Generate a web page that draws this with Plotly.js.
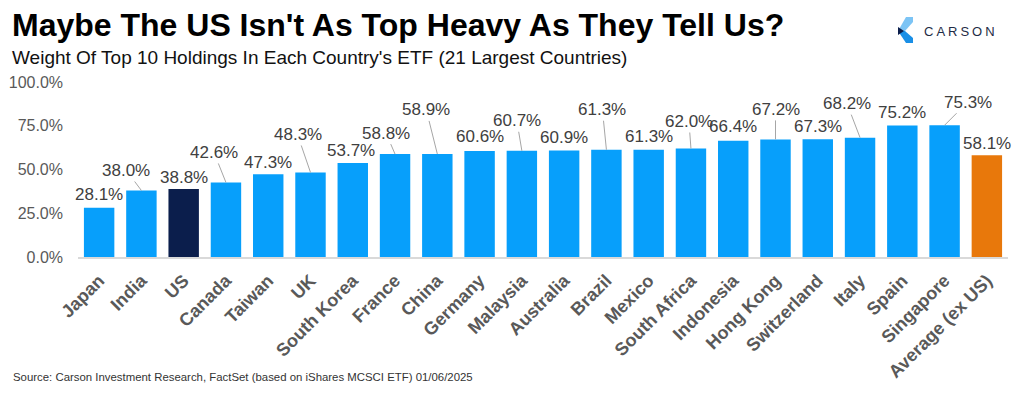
<!DOCTYPE html>
<html>
<head>
<meta charset="utf-8">
<script src="https://cdn.plot.ly/plotly-3.0.1.min.js"></script>
<style>
  html, body { margin: 0; padding: 0; background: #ffffff; }
  #chart { width: 1023px; height: 394px; }
</style>
</head>
<body>
<div id="chart"></div>
<script>
// ---- Data ----
const categories = ["Japan", "India", "US", "Canada", "Taiwan", "UK", "South Korea", "France", "China",
  "Germany", "Malaysia", "Australia", "Brazil", "Mexico", "South Africa", "Indonesia", "Hong Kong",
  "Switzerland", "Italy", "Spain", "Singapore", "Average (ex US)"];
const topTenWeight = [28.1, 38.0, 38.8, 42.6, 47.3, 48.3, 53.7, 58.8, 58.9,
  60.6, 60.7, 60.9, 61.3, 61.3, 62.0, 66.4, 67.2,
  67.3, 68.2, 75.2, 75.3, 58.1];
const yTickVals = [0, 25, 50, 75, 100];
const yTickText = yTickVals.map(v => v.toFixed(1) + "%");

const titleText = "Maybe The US Isn't As Top Heavy As They Tell Us?";
const subtitleText = "Weight Of Top 10 Holdings In Each Country's ETF (21 Largest Countries)";
const sourceText = "Source: Carson Investment Research, FactSet (based on iShares MCSCI ETF) 01/06/2025";

// ---- Styling / label placement (pixel offsets from bar top, leader line if moved) ----
const labelOffsets = [[0,-13],[-15,-20],[0,-12],[-12,-30],[0,-12],[-13,-38],[-2,-13],[-9,-21],[-11,-44],
  [0,-14],[-5,-30],[0,-13],[-4,-40],[0,-13],[-2,-27],[0,-14],[0,-30],
  [0,-13],[-13,-34],[0,-13],[23,-23],[0,-12]];
const leader = [false,true,false,true,false,true,false,true,true,
  false,true,false,true,false,true,false,true,
  false,true,false,true,false];

const BLUE = "#079ffb", NAVY = "#0b1e4c", ORANGE = "#e8780b";
const barColors = categories.map(c => c === "US" ? NAVY : (c.startsWith("Average") ? ORANGE : BLUE));

const M = {l: 78, r: 15, t: 82, b: 137};
const W = 1023, H = 394;
const PW = W - M.l - M.r, PH = H - M.t - M.b;
const px = p => (p - M.l) / PW;
const py = p => (H - M.b - p) / PH;
const FONT = "Liberation Sans, Arial, sans-serif";

const annotations = [];
categories.forEach((c, i) => {
  annotations.push({
    x: c, y: topTenWeight[i], xref: "x", yref: "y",
    text: topTenWeight[i].toFixed(1) + "%",
    showarrow: true, arrowhead: 0, arrowwidth: 1, standoff: 0,
    arrowcolor: leader[i] ? "#a6a6a6" : "rgba(0,0,0,0)",
    ax: labelOffsets[i][0], ay: labelOffsets[i][1],
    font: {family: FONT, size: 17, color: "#404040"}
  });
});

annotations.push({
  xref: "paper", yref: "paper", x: px(10), y: py(25), xanchor: "left", yanchor: "middle",
  text: "<b>" + titleText + "</b>", showarrow: false,
  font: {family: FONT, size: 32, color: "#000000"}
});
annotations.push({
  xref: "paper", yref: "paper", x: px(10), y: py(58), xanchor: "left", yanchor: "middle",
  text: subtitleText, showarrow: false,
  font: {family: FONT, size: 19, color: "#111111"}
});
annotations.push({
  xref: "paper", yref: "paper", x: px(11), y: py(377), xanchor: "left", yanchor: "middle",
  text: sourceText, showarrow: false,
  font: {family: FONT, size: 11.4, color: "#333333"}
});
annotations.push({
  xref: "paper", yref: "paper", x: px(961), y: py(31), xanchor: "center", yanchor: "middle",
  text: "CARSON", showarrow: false,
  font: {family: FONT, size: 13, color: "#1e2b45", weight: 500}
});

function pathPx(pts) {
  return "M " + pts.map(p => px(p[0]).toFixed(5) + " " + py(p[1]).toFixed(5)).join(" L ") + " Z";
}
const shapes = [
  {type: "path", xref: "paper", yref: "paper", line: {width: 0}, fillcolor: "#7cc4f5",
   path: pathPx([[906,17],[913,17],[913,22],[905,31],[898,31]])},
  {type: "path", xref: "paper", yref: "paper", line: {width: 0}, fillcolor: "#1a8fe6",
   path: pathPx([[898,31],[905,31],[913,38],[913,43],[906,43]])},
  {type: "path", xref: "paper", yref: "paper", line: {width: 0}, fillcolor: "#0b1e4c",
   path: pathPx([[898,27],[904,31],[898,35]])}
];

const trace = {
  type: "bar", x: categories, y: topTenWeight,
  marker: {color: barColors, line: {width: 0}},
  hoverinfo: "skip"
};

const layout = {
  width: W, height: H,
  margin: M,
  paper_bgcolor: "#ffffff", plot_bgcolor: "#ffffff",
  bargap: 0.28,
  showlegend: false,
  font: {family: FONT},
  xaxis: {
    type: "category", range: [-0.5, categories.length - 0.5], autorange: false,
    tickangle: -45, showgrid: false, zeroline: false,
    showline: true, linecolor: "#d9d9d9", linewidth: 2, ticks: "",
    ticklabelstandoff: 4,
    tickfont: {family: FONT, size: 18, color: "#595959", weight: "bold"},
    fixedrange: true
  },
  yaxis: {
    range: [0, 100], autorange: false, tickmode: "array", tickvals: yTickVals, ticktext: yTickText,
    showgrid: false, zeroline: false, showline: false, ticks: "",
    ticklabelstandoff: 14,
    tickfont: {family: FONT, size: 16, color: "#595959"},
    fixedrange: true
  },
  annotations: annotations,
  shapes: shapes
};

Plotly.newPlot("chart", [trace], layout, {staticPlot: true, displayModeBar: false}).then(() => {
  document.querySelectorAll(".annotation-text").forEach(t => {
    if (t.textContent === "CARSON") { t.style.letterSpacing = "3px"; }
  });
});
</script>
</body>
</html>
